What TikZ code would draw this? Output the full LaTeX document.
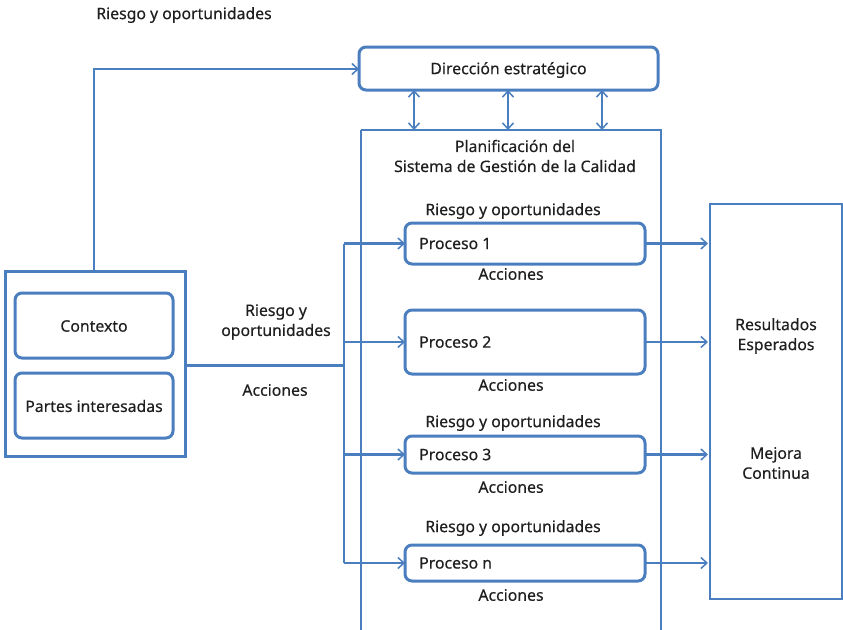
\documentclass[tikz,border=0pt]{standalone}
\usepackage{fontspec}
\setmainfont{Noto Sans}[BoldFont=Noto Sans,BoldFeatures={FakeBold=0.35}]
\usetikzlibrary{arrows.meta}
\definecolor{lb}{RGB}{74,126,190}
\begin{document}
\begin{tikzpicture}[x=1pt,y=-1pt,
  thick line/.style={draw=lb,line width=3pt},
  thin line/.style={draw=lb,line width=1.6pt},
  rbox/.style={thick line,rounded corners=7pt},
  arr/.style={draw=lb,line width=2.6pt,-{Straight Barb[length=6pt,width=11pt,line width=1.5pt]}},
  darr/.style={draw=lb,line width=2.6pt,{Straight Barb[length=6pt,width=11pt,line width=1.5pt]}-{Straight Barb[length=6pt,width=11pt,line width=1.5pt]}},
  txt/.style={font=\fontsize{15.8}{20}\selectfont\bfseries,text=black!88,align=center,inner sep=0pt}]
\useasboundingbox (0,0) rectangle (843,629);
% boxes
\draw[rbox] (359,47) rectangle (658,90);
\node[txt] (dir) at (508.5,70) {Dirección estratégico};
\coordinate (dirB) at (359,69);
\draw[thin line] (361,130) -- (361,640) ;
\draw[thin line] (361,130) -- (661,130) -- (661,640);
\node[txt] (plan) at (515,156) {Planificación del\\Sistema de Gestión de la Calidad};
\draw[thin line] (710,204) rectangle (842,599);
\node[txt] (res) at (776,336) {Resultados\\Esperados};
\node[txt] (mej) at (776,463) {Mejora\\Continua};
\draw[thick line] (5,271) rectangle (185,456);
\coordinate (lt) at (94,271);
\draw[rbox] (15,293) rectangle (173,358);
\node[txt] (ctx) at (94,326) {Contexto};
\draw[rbox] (15,373) rectangle (173,438);
\node[txt] (pi) at (94,406) {Partes interesadas};
\node[txt] (top) at (184,15) {Riesgo y oportunidades};
\node[txt] (ro) at (276,322) {Riesgo y\\oportunidades};
\node[txt] (ac) at (275,390) {Acciones};
% processes
\foreach \n/\ya/\yb/\lab in {1/223/264/Proceso 1,2/310/374/Proceso 2,3/436/473/Proceso 3,4/545/581/Proceso n}{
  \draw[rbox] (405,\ya) rectangle (645,\yb);
  \node[txt,anchor=west] (p\n) at (419,{(\ya+\yb)/2}) {\lab};
  \coordinate (pl\n) at (405,{(\ya+\yb)/2});
  \coordinate (pr\n) at (645,{(\ya+\yb)/2});
  \coordinate (rr\n) at (708,{(\ya+\yb)/2});
  \coordinate (bus\n) at (344,{(\ya+\yb)/2});
  \draw[arr] (pr\n) -- (rr\n);
  \draw[arr] (bus\n) -- (pl\n);
}
\node[txt] (r1) at (513,211) {Riesgo y oportunidades};
\node[txt] (r3) at (513,423) {Riesgo y oportunidades};
\node[txt] (r4) at (513,528) {Riesgo y oportunidades};
\node[txt] (a1) at (511,274) {Acciones};
\node[txt] (a2) at (511,385) {Acciones};
\node[txt] (a3) at (511,487) {Acciones};
\node[txt] (a4) at (511,595) {Acciones};
% connectors
\draw[thick line] (185,365) -- (344,365);
\draw[draw=lb,line width=2.6pt] (bus1) -- (bus4);
\draw[arr] (lt) -- (94,69) -- (dirB);
\foreach \x in {414,508,602}{
  \coordinate (u\x) at (\x,90);
  \coordinate (d\x) at (\x,130);
  \draw[darr] (u\x) -- (d\x);
}
\end{tikzpicture}
\end{document}
